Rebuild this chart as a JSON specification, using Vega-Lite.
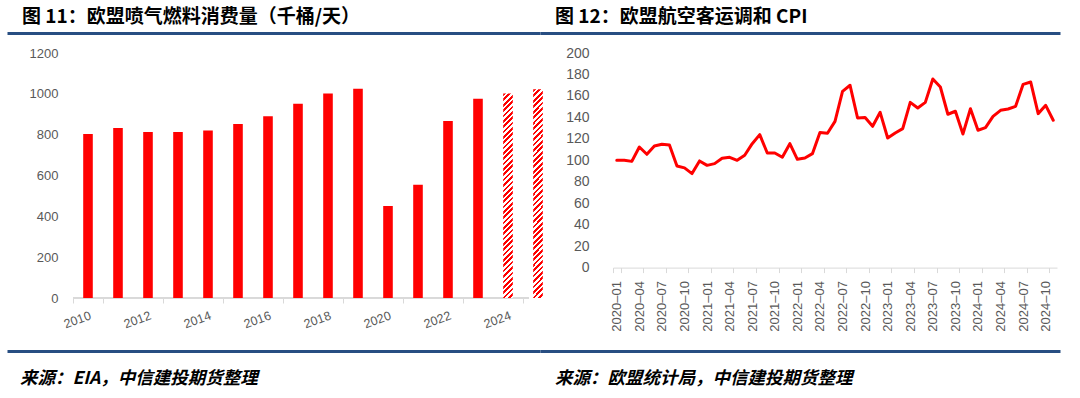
{
  "$schema": "https://vega.github.io/schema/vega-lite/v6.json",
  "padding": {"left": 7, "top": 8, "right": 5, "bottom": 5},
  "background": "white",
  "config": {
    "view": {"stroke": null},
    "font": "Liberation Sans",
    "axis": {"labelFont": "Liberation Sans", "labelColor": "#595959", "title": null, "grid": false}
  },
  "datasets": {
    "fuel": [
      {"year": "2010", "value": 803, "type": "actual"},
      {"year": "2011", "value": 833, "type": "actual"},
      {"year": "2012", "value": 813, "type": "actual"},
      {"year": "2013", "value": 813, "type": "actual"},
      {"year": "2014", "value": 821, "type": "actual"},
      {"year": "2015", "value": 852, "type": "actual"},
      {"year": "2016", "value": 890, "type": "actual"},
      {"year": "2017", "value": 952, "type": "actual"},
      {"year": "2018", "value": 1002, "type": "actual"},
      {"year": "2019", "value": 1025, "type": "actual"},
      {"year": "2020", "value": 451, "type": "actual"},
      {"year": "2021", "value": 555, "type": "actual"},
      {"year": "2022", "value": 867, "type": "actual"},
      {"year": "2023", "value": 976, "type": "actual"},
      {"year": "2024", "value": 1002, "type": "forecast"},
      {"year": "2025", "value": 1022, "type": "forecast"}
    ],
    "cpi": [
      {"month": "2020-01", "cpi": 100}, {"month": "2020-02", "cpi": 100}, {"month": "2020-03", "cpi": 99},
      {"month": "2020-04", "cpi": 112.4}, {"month": "2020-05", "cpi": 105.6}, {"month": "2020-06", "cpi": 113.4},
      {"month": "2020-07", "cpi": 115}, {"month": "2020-08", "cpi": 114.3}, {"month": "2020-09", "cpi": 94.7},
      {"month": "2020-10", "cpi": 92.9}, {"month": "2020-11", "cpi": 87.6}, {"month": "2020-12", "cpi": 99.4},
      {"month": "2021-01", "cpi": 95.3}, {"month": "2021-02", "cpi": 96.9}, {"month": "2021-03", "cpi": 101.9},
      {"month": "2021-04", "cpi": 102.8}, {"month": "2021-05", "cpi": 100}, {"month": "2021-06", "cpi": 104.7},
      {"month": "2021-07", "cpi": 115.5}, {"month": "2021-08", "cpi": 123.9}, {"month": "2021-09", "cpi": 106.8},
      {"month": "2021-10", "cpi": 106.8}, {"month": "2021-11", "cpi": 102.8}, {"month": "2021-12", "cpi": 115.5},
      {"month": "2022-01", "cpi": 100.9}, {"month": "2022-02", "cpi": 102.2}, {"month": "2022-03", "cpi": 106.2},
      {"month": "2022-04", "cpi": 125.8}, {"month": "2022-05", "cpi": 125.2}, {"month": "2022-06", "cpi": 136.3},
      {"month": "2022-07", "cpi": 164.3}, {"month": "2022-08", "cpi": 169.9}, {"month": "2022-09", "cpi": 139.4},
      {"month": "2022-10", "cpi": 139.8}, {"month": "2022-11", "cpi": 131.7}, {"month": "2022-12", "cpi": 144.7},
      {"month": "2023-01", "cpi": 120.8}, {"month": "2023-02", "cpi": 125.5}, {"month": "2023-03", "cpi": 129.5},
      {"month": "2023-04", "cpi": 154}, {"month": "2023-05", "cpi": 148.8}, {"month": "2023-06", "cpi": 154},
      {"month": "2023-07", "cpi": 175.8}, {"month": "2023-08", "cpi": 168.3}, {"month": "2023-09", "cpi": 142.9},
      {"month": "2023-10", "cpi": 145.7}, {"month": "2023-11", "cpi": 124.5}, {"month": "2023-12", "cpi": 148.1},
      {"month": "2024-01", "cpi": 128}, {"month": "2024-02", "cpi": 130.4}, {"month": "2024-03", "cpi": 141},
      {"month": "2024-04", "cpi": 146.6}, {"month": "2024-05", "cpi": 147.8}, {"month": "2024-06", "cpi": 150.3},
      {"month": "2024-07", "cpi": 170.8}, {"month": "2024-08", "cpi": 173}, {"month": "2024-09", "cpi": 143.5},
      {"month": "2024-10", "cpi": 151.2}, {"month": "2024-11", "cpi": 137.3}
    ]
  },
  "spacing": 13,
  "vconcat": [
    {
      "spacing": 0,
      "hconcat": [
        {
          "width": 533, "height": 1,
          "data": {"values": [{"v": 0}]},
          "mark": {"type": "rule", "opacity": 0},
          "encoding": {"x": {"field": "v", "type": "quantitative", "scale": {"domain": [0, 1]},
            "axis": {"orient": "bottom", "domain": true, "domainColor": "#284E82", "domainWidth": 3, "domainCap": "butt", "labels": false, "ticks": false}}},
          "title": {"text": "图 11：欧盟喷气燃料消费量（千桶/天）", "anchor": "start", "frame": "group", "dx": 15, "font": "Noto Sans CJK SC", "fontSize": 19, "fontWeight": "bold", "color": "#000000", "offset": 5}
        },
        {
          "width": 520, "height": 1,
          "data": {"values": [{"v": 0}]},
          "mark": {"type": "rule", "opacity": 0},
          "encoding": {"x": {"field": "v", "type": "quantitative", "scale": {"domain": [0, 1]},
            "axis": {"orient": "bottom", "domain": true, "domainColor": "#284E82", "domainWidth": 3, "domainCap": "butt", "labels": false, "ticks": false}}},
          "title": {"text": "图 12：欧盟航空客运调和 CPI", "anchor": "start", "frame": "group", "dx": 15, "font": "Noto Sans CJK SC", "fontSize": 19, "fontWeight": "bold", "color": "#000000", "offset": 5}
        }
      ]
    },
    {
      "spacing": 12,
      "hconcat": [
        {
          "width": 546, "height": 245,
          "data": {"name": "fuel"},
          "encoding": {
            "x": {"field": "year", "type": "ordinal",
              "scale": {"type": "band", "domain": [" ", "2010", "2011", "2012", "2013", "2014", "2015", "2016", "2017", "2018", "2019", "2020", "2021", "2022", "2023", "2024", "2025"], "paddingInner": 0, "paddingOuter": 0.6, "align": 1},
              "axis": {"values": ["2010", "2012", "2014", "2016", "2018", "2020", "2022", "2024"], "tickBand": "extent", "domain": false,
                "labelAngle": -20, "labelAlign": "right", "labelBaseline": "top", "labelPadding": 6, "labelFontSize": 12.5,
                "tickSize": 5, "tickColor": "#d9d9d9"}},
            "y": {"field": "value", "type": "quantitative", "scale": {"domain": [0, 1200], "nice": false},
              "axis": {"values": [0, 200, 400, 600, 800, 1000, 1200], "format": "d", "offset": -66, "domain": false, "ticks": false, "labelPadding": 15, "labelFontSize": 13, "minExtent": 0}}
          },
          "layer": [
            {"mark": {"type": "rule", "color": "#d9d9d9", "strokeWidth": 1},
              "encoding": {"x": {"datum": "2010", "bandPosition": 0}, "x2": {"datum": "2025", "bandPosition": 0.2}, "y": {"datum": 0}}},
            {"transform": [{"filter": "datum.type == 'actual'"}], "mark": {"type": "bar", "size": 9.6, "color": "#FF0000"}},
            {"transform": [{"filter": "datum.type == 'forecast'"}], "mark": {"type": "bar", "size": 9.6, "strokeWidth": 0,
              "fill": {"gradient": "linear", "x1": 0, "y1": 0, "x2": 0.049, "y2": 1.0446, "stops": [
                {"offset": 0, "color": "red"}, {"offset": 0.0125, "color": "red"}, {"offset": 0.0125, "color": "white"}, {"offset": 0.025, "color": "white"},
                {"offset": 0.025, "color": "red"}, {"offset": 0.0375, "color": "red"}, {"offset": 0.0375, "color": "white"}, {"offset": 0.05, "color": "white"},
                {"offset": 0.05, "color": "red"}, {"offset": 0.0625, "color": "red"}, {"offset": 0.0625, "color": "white"}, {"offset": 0.075, "color": "white"},
                {"offset": 0.075, "color": "red"}, {"offset": 0.0875, "color": "red"}, {"offset": 0.0875, "color": "white"}, {"offset": 0.1, "color": "white"},
                {"offset": 0.1, "color": "red"}, {"offset": 0.1125, "color": "red"}, {"offset": 0.1125, "color": "white"}, {"offset": 0.125, "color": "white"},
                {"offset": 0.125, "color": "red"}, {"offset": 0.1375, "color": "red"}, {"offset": 0.1375, "color": "white"}, {"offset": 0.15, "color": "white"},
                {"offset": 0.15, "color": "red"}, {"offset": 0.1625, "color": "red"}, {"offset": 0.1625, "color": "white"}, {"offset": 0.175, "color": "white"},
                {"offset": 0.175, "color": "red"}, {"offset": 0.1875, "color": "red"}, {"offset": 0.1875, "color": "white"}, {"offset": 0.2, "color": "white"},
                {"offset": 0.2, "color": "red"}, {"offset": 0.2125, "color": "red"}, {"offset": 0.2125, "color": "white"}, {"offset": 0.225, "color": "white"},
                {"offset": 0.225, "color": "red"}, {"offset": 0.2375, "color": "red"}, {"offset": 0.2375, "color": "white"}, {"offset": 0.25, "color": "white"},
                {"offset": 0.25, "color": "red"}, {"offset": 0.2625, "color": "red"}, {"offset": 0.2625, "color": "white"}, {"offset": 0.275, "color": "white"},
                {"offset": 0.275, "color": "red"}, {"offset": 0.2875, "color": "red"}, {"offset": 0.2875, "color": "white"}, {"offset": 0.3, "color": "white"},
                {"offset": 0.3, "color": "red"}, {"offset": 0.3125, "color": "red"}, {"offset": 0.3125, "color": "white"}, {"offset": 0.325, "color": "white"},
                {"offset": 0.325, "color": "red"}, {"offset": 0.3375, "color": "red"}, {"offset": 0.3375, "color": "white"}, {"offset": 0.35, "color": "white"},
                {"offset": 0.35, "color": "red"}, {"offset": 0.3625, "color": "red"}, {"offset": 0.3625, "color": "white"}, {"offset": 0.375, "color": "white"},
                {"offset": 0.375, "color": "red"}, {"offset": 0.3875, "color": "red"}, {"offset": 0.3875, "color": "white"}, {"offset": 0.4, "color": "white"},
                {"offset": 0.4, "color": "red"}, {"offset": 0.4125, "color": "red"}, {"offset": 0.4125, "color": "white"}, {"offset": 0.425, "color": "white"},
                {"offset": 0.425, "color": "red"}, {"offset": 0.4375, "color": "red"}, {"offset": 0.4375, "color": "white"}, {"offset": 0.45, "color": "white"},
                {"offset": 0.45, "color": "red"}, {"offset": 0.4625, "color": "red"}, {"offset": 0.4625, "color": "white"}, {"offset": 0.475, "color": "white"},
                {"offset": 0.475, "color": "red"}, {"offset": 0.4875, "color": "red"}, {"offset": 0.4875, "color": "white"}, {"offset": 0.5, "color": "white"},
                {"offset": 0.5, "color": "red"}, {"offset": 0.5125, "color": "red"}, {"offset": 0.5125, "color": "white"}, {"offset": 0.525, "color": "white"},
                {"offset": 0.525, "color": "red"}, {"offset": 0.5375, "color": "red"}, {"offset": 0.5375, "color": "white"}, {"offset": 0.55, "color": "white"},
                {"offset": 0.55, "color": "red"}, {"offset": 0.5625, "color": "red"}, {"offset": 0.5625, "color": "white"}, {"offset": 0.575, "color": "white"},
                {"offset": 0.575, "color": "red"}, {"offset": 0.5875, "color": "red"}, {"offset": 0.5875, "color": "white"}, {"offset": 0.6, "color": "white"},
                {"offset": 0.6, "color": "red"}, {"offset": 0.6125, "color": "red"}, {"offset": 0.6125, "color": "white"}, {"offset": 0.625, "color": "white"},
                {"offset": 0.625, "color": "red"}, {"offset": 0.6375, "color": "red"}, {"offset": 0.6375, "color": "white"}, {"offset": 0.65, "color": "white"},
                {"offset": 0.65, "color": "red"}, {"offset": 0.6625, "color": "red"}, {"offset": 0.6625, "color": "white"}, {"offset": 0.675, "color": "white"},
                {"offset": 0.675, "color": "red"}, {"offset": 0.6875, "color": "red"}, {"offset": 0.6875, "color": "white"}, {"offset": 0.7, "color": "white"},
                {"offset": 0.7, "color": "red"}, {"offset": 0.7125, "color": "red"}, {"offset": 0.7125, "color": "white"}, {"offset": 0.725, "color": "white"},
                {"offset": 0.725, "color": "red"}, {"offset": 0.7375, "color": "red"}, {"offset": 0.7375, "color": "white"}, {"offset": 0.75, "color": "white"},
                {"offset": 0.75, "color": "red"}, {"offset": 0.7625, "color": "red"}, {"offset": 0.7625, "color": "white"}, {"offset": 0.775, "color": "white"},
                {"offset": 0.775, "color": "red"}, {"offset": 0.7875, "color": "red"}, {"offset": 0.7875, "color": "white"}, {"offset": 0.8, "color": "white"},
                {"offset": 0.8, "color": "red"}, {"offset": 0.8125, "color": "red"}, {"offset": 0.8125, "color": "white"}, {"offset": 0.825, "color": "white"},
                {"offset": 0.825, "color": "red"}, {"offset": 0.8375, "color": "red"}, {"offset": 0.8375, "color": "white"}, {"offset": 0.85, "color": "white"},
                {"offset": 0.85, "color": "red"}, {"offset": 0.8625, "color": "red"}, {"offset": 0.8625, "color": "white"}, {"offset": 0.875, "color": "white"},
                {"offset": 0.875, "color": "red"}, {"offset": 0.8875, "color": "red"}, {"offset": 0.8875, "color": "white"}, {"offset": 0.9, "color": "white"},
                {"offset": 0.9, "color": "red"}, {"offset": 0.9125, "color": "red"}, {"offset": 0.9125, "color": "white"}, {"offset": 0.925, "color": "white"},
                {"offset": 0.925, "color": "red"}, {"offset": 0.9375, "color": "red"}, {"offset": 0.9375, "color": "white"}, {"offset": 0.95, "color": "white"},
                {"offset": 0.95, "color": "red"}, {"offset": 0.9625, "color": "red"}, {"offset": 0.9625, "color": "white"}, {"offset": 0.975, "color": "white"},
                {"offset": 0.975, "color": "red"}, {"offset": 0.9875, "color": "red"}, {"offset": 0.9875, "color": "white"}, {"offset": 1, "color": "white"}
              ]}}}
          ]
        },
        {
          "width": 444, "height": 214.6,
          "data": {"name": "cpi"},
          "mark": {"type": "line", "color": "#FF0000", "strokeWidth": 3, "strokeJoin": "round", "strokeCap": "round"},
          "encoding": {
            "x": {"field": "month", "type": "ordinal", "bandPosition": 0.5, "scale": {"type": "band", "paddingInner": 0, "paddingOuter": 0},
              "axis": {"values": ["2020-01", "2020-04", "2020-07", "2020-10", "2021-01", "2021-04", "2021-07", "2021-10", "2022-01", "2022-04", "2022-07", "2022-10", "2023-01", "2023-04", "2023-07", "2023-10", "2024-01", "2024-04", "2024-07", "2024-10"],
                "labelExpr": "replace(datum.label, '-', '–')", "tickBand": "extent",
                "labelAngle": -90, "labelAlign": "right", "labelBaseline": "middle", "labelPadding": 8, "labelFontSize": 13,
                "tickSize": 5, "tickColor": "#d9d9d9", "domainColor": "#d9d9d9"}},
            "y": {"field": "cpi", "type": "quantitative", "scale": {"domain": [0, 200], "nice": false},
              "axis": {"values": [0, 20, 40, 60, 80, 100, 120, 140, 160, 180, 200], "domain": false, "ticks": false, "labelPadding": 24, "labelFontSize": 14}}
          }
        }
      ]
    },
    {
      "spacing": 0,
      "hconcat": [
        {
          "width": 533, "height": 10,
          "data": {"values": [{"v": 0}]},
          "mark": {"type": "rule", "opacity": 0},
          "encoding": {"x": {"field": "v", "type": "quantitative", "scale": {"domain": [0, 1]},
            "axis": {"orient": "top", "offset": -6, "domain": true, "domainColor": "#284E82", "domainWidth": 3, "domainCap": "butt", "labels": false, "ticks": false}}},
          "title": {"text": "来源：EIA，中信建投期货整理", "orient": "bottom", "anchor": "start", "frame": "group", "dx": 13, "font": "Noto Sans CJK SC", "fontSize": 17.5, "fontWeight": "bold", "fontStyle": "italic", "color": "#000000", "offset": 15}
        },
        {
          "width": 520, "height": 10,
          "data": {"values": [{"v": 0}]},
          "mark": {"type": "rule", "opacity": 0},
          "encoding": {"x": {"field": "v", "type": "quantitative", "scale": {"domain": [0, 1]},
            "axis": {"orient": "top", "offset": -6, "domain": true, "domainColor": "#284E82", "domainWidth": 3, "domainCap": "butt", "labels": false, "ticks": false}}},
          "title": {"text": "来源：欧盟统计局，中信建投期货整理", "orient": "bottom", "anchor": "start", "frame": "group", "dx": 15, "font": "Noto Sans CJK SC", "fontSize": 17.5, "fontWeight": "bold", "fontStyle": "italic", "color": "#000000", "offset": 15}
        }
      ]
    }
  ]
}
